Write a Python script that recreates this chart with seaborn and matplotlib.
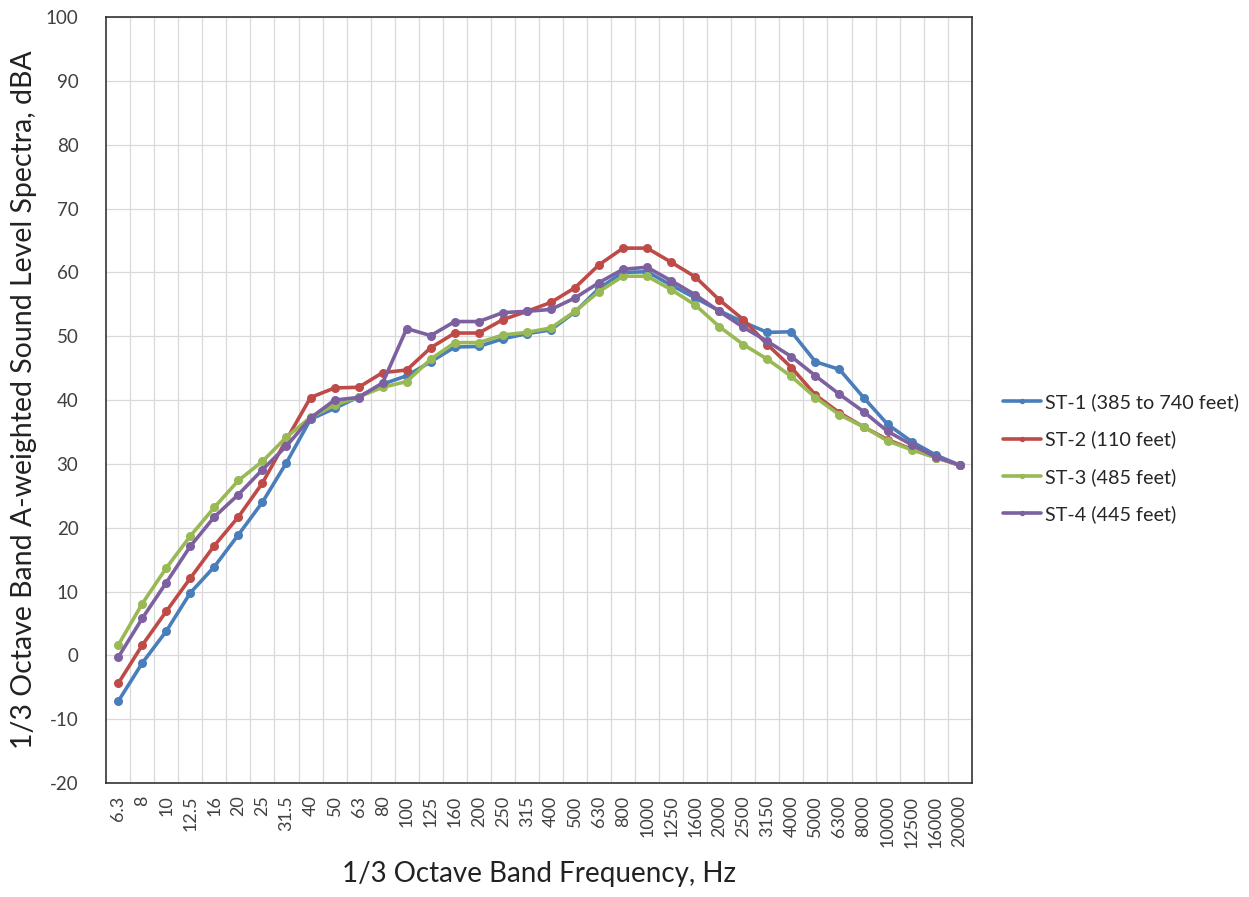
import pandas as pd
import matplotlib
matplotlib.use('Agg')
import matplotlib.pyplot as plt
import seaborn as sns

# 1/3 octave band centre frequencies, Hz
bands = ['6.3', '8', '10', '12.5', '16', '20', '25', '31.5', '40', '50', '63', '80',
         '100', '125', '160', '200', '250', '315', '400', '500', '630', '800', '1000',
         '1250', '1600', '2000', '2500', '3150', '4000', '5000', '6300', '8000',
         '10000', '12500', '16000', '20000']

# A-weighted levels, dBA
st1 = [-7.2, -1.2, 3.8, 9.8, 13.9, 18.9, 24.0, 30.2, 37.0, 38.7, 40.5, 42.5,
       43.8, 46.0, 48.3, 48.4, 49.6, 50.4, 51.0, 53.8, 57.5, 60.0, 60.1,
       58.0, 56.0, 54.0, 52.2, 50.6, 50.7, 46.0, 44.8, 40.4, 36.2, 33.5, 31.4, 29.8]
st2 = [-4.4, 1.6, 6.9, 12.1, 17.2, 21.7, 27.0, 33.8, 40.4, 41.9, 42.0, 44.3,
       44.7, 48.2, 50.5, 50.5, 52.6, 53.9, 55.3, 57.6, 61.2, 63.8, 63.8,
       61.6, 59.3, 55.7, 52.6, 48.7, 45.1, 40.8, 38.0, 35.8, 33.8, 32.3, 31.0, 29.8]
st3 = [1.6, 8.1, 13.7, 18.7, 23.2, 27.4, 30.4, 34.2, 37.3, 39.2, 40.5, 42.0,
       42.9, 46.4, 49.0, 49.0, 50.2, 50.6, 51.3, 53.9, 57.0, 59.4, 59.4,
       57.3, 54.9, 51.5, 48.7, 46.4, 43.7, 40.4, 37.7, 35.8, 33.6, 32.2, 31.0, 29.8]
st4 = [-0.3, 5.8, 11.4, 17.1, 21.7, 25.2, 29.1, 32.8, 37.2, 40.0, 40.4, 42.7,
       51.2, 50.1, 52.3, 52.3, 53.7, 53.9, 54.2, 56.0, 58.4, 60.5, 60.8,
       58.7, 56.5, 53.9, 51.4, 49.2, 46.8, 43.8, 40.9, 38.2, 35.1, 33.0, 31.1, 29.8]

series = ['ST-1 (385 to 740 feet)', 'ST-2 (110 feet)', 'ST-3 (485 feet)', 'ST-4 (445 feet)']
colors = ['#4A7EBB', '#BE4B48', '#98B954', '#7D60A0']

rows = []
for name, vals in zip(series, [st1, st2, st3, st4]):
    for i, v in enumerate(vals):
        rows.append({'pos': i, 'level': v, 'site': name})
df = pd.DataFrame(rows)

sns.set_style('white')
plt.rcParams['font.family'] = ['Lato', 'DejaVu Sans']
plt.rcParams['axes.unicode_minus'] = False

fig = plt.figure(figsize=(12.49, 8.97), dpi=100)
ax = fig.add_axes([0.085, 0.127, 0.693, 0.854])

sns.lineplot(data=df, x='pos', y='level', hue='site', palette=colors,
             marker='o', markersize=6.5, markeredgewidth=0, linewidth=2.6,
             ax=ax, legend=True)

ax.set_xlim(-0.5, len(bands) - 0.5)
ax.set_ylim(-20, 100)
ax.set_yticks(range(-20, 101, 10))
ax.set_xticks(range(len(bands)))
ax.set_xticklabels(bands, rotation=90, fontsize=13)
ax.tick_params(axis='y', labelsize=13.5, length=0, pad=20)
ax.tick_params(axis='x', length=0, pad=9)
for t in ax.get_yticklabels():
    t.set_color('#404040')
for t in ax.get_xticklabels():
    t.set_color('#404040')

# vertical grid at category boundaries, horizontal grid at major ticks
ax.set_xticks([i + 0.5 for i in range(len(bands) - 1)], minor=True)
ax.tick_params(axis='x', which='minor', length=0)
ax.grid(which='minor', axis='x', color='#d9d9d9', linewidth=0.9)
ax.grid(which='major', axis='y', color='#d9d9d9', linewidth=0.9)
ax.grid(which='major', axis='x', visible=False)
for s in ax.spines.values():
    s.set_color('#333333')
    s.set_linewidth(1.2)

ax.set_xlabel('1/3 Octave Band Frequency, Hz', fontsize=20, color='#222222', labelpad=10)
ax.set_ylabel('1/3 Octave Band A-weighted Sound Level Spectra, dBA', fontsize=20.5,
              color='#222222', labelpad=6)

ax.legend(loc='center left', bbox_to_anchor=(1.025, 0.424), frameon=False, fontsize=14.2,
          handlelength=1.9, handletextpad=0.2, labelspacing=0.98, markerscale=0.6,
          borderpad=0)

fig.savefig('out.png', dpi=100)
